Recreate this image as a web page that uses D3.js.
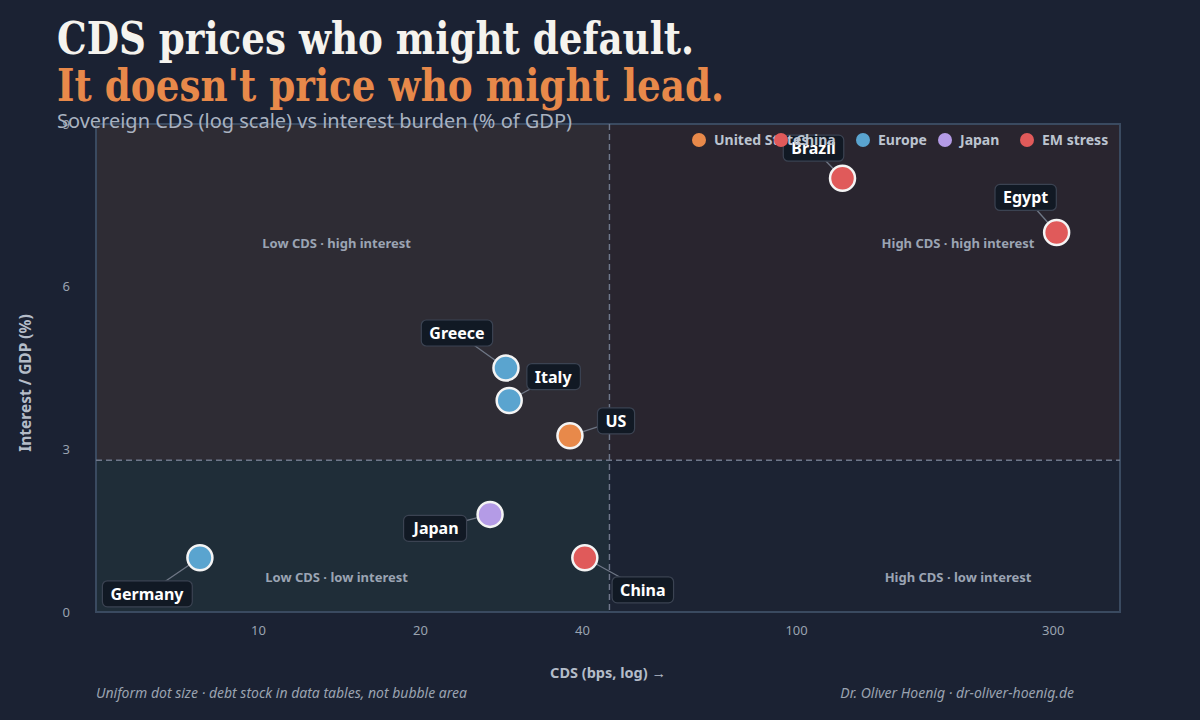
<!DOCTYPE html>
<html>
<head>
<meta charset="utf-8">
<script src="https://cdn.jsdelivr.net/npm/d3@7"></script>
<style>
  html, body { margin: 0; padding: 0; background: #1b2233; }
  svg { display: block; }
</style>
</head>
<body>
<div id="chart"></div>
<script>
// data
var countries = ["Germany", "Japan", "China", "US", "Italy", "Greece", "Brazil", "Egypt"];
var cdsBps = [7.8, 27, 40.5, 38, 29.3, 28.9, 122, 305];
var interestGdp = [1.0, 1.8, 1.0, 3.25, 3.9, 4.5, 8.0, 7.0];
var groups = ["Europe", "Japan", "China", "United States", "Europe", "Europe", "EM stress", "EM stress"];

var legendNames = ["United States", "China", "Europe", "Japan", "EM stress"];
var legendColors = ["#e8894a", "#e05a5a", "#5aa4cf", "#b49be6", "#e05a5a"];

var xTicks = [10, 20, 40, 100, 300];
var yTicks = [0, 3, 6, 9];
var cdsSplit = 45;
var interestSplit = 2.8;

var quadrantNames = ["Low CDS · high interest", "High CDS · high interest", "Low CDS · low interest", "High CDS · low interest"];
var quadrantCds = [14, 200, 14, 200];
var quadrantInterest = [6.8, 6.8, 0.65, 0.65];

// label offsets (px) from each dot
var labelOffsets = {
    Germany: [-53, 36], Japan: [-54, 14], China: [58, 32], US: [46, -15],
    Italy: [44, -24], Greece: [-49, -35], Brazil: [-29, -30], Egypt: [-31, -35]
};

(() => {
    var width = 1200;
    var height = 720;
    var margin = { left: 96, right: 80, top: 124, bottom: 108 };

    var svg = d3.select("#chart")
        .append("svg")
        .attr("width", width)
        .attr("height", height)
        .style("font-family", "'Noto Sans', 'Open Sans', sans-serif");

    svg.append("rect")
        .attr("width", width)
        .attr("height", height)
        .attr("fill", "#1b2233");

    var x = d3.scaleLog()
        .domain([5, 400])
        .range([margin.left, width - margin.right]);

    var y = d3.scaleLinear()
        .domain([0, 9])
        .range([height - margin.bottom, margin.top]);

    var colorOf = d3.scaleOrdinal()
        .domain(legendNames)
        .range(legendColors);

    var data = countries.map(function (c, i) {
        return { name: c, cds: cdsBps[i], interest: interestGdp[i], group: groups[i] };
    });

    // quadrant backgrounds
    var quads = [
        { x0: 5, x1: cdsSplit, y0: interestSplit, y1: 9, fill: "#2e2c34" },
        { x0: cdsSplit, x1: 400, y0: interestSplit, y1: 9, fill: "#29252f" },
        { x0: 5, x1: cdsSplit, y0: 0, y1: interestSplit, fill: "#1f2d38" },
        { x0: cdsSplit, x1: 400, y0: 0, y1: interestSplit, fill: "#1c2333" }
    ];
    svg.selectAll(".quad")
        .data(quads)
        .join("rect")
        .attr("class", "quad")
        .attr("x", function (d) { return x(d.x0); })
        .attr("y", function (d) { return y(d.y1); })
        .attr("width", function (d) { return x(d.x1) - x(d.x0); })
        .attr("height", function (d) { return y(d.y0) - y(d.y1); })
        .attr("fill", function (d) { return d.fill; });

    // plot frame
    svg.append("rect")
        .attr("x", x(5))
        .attr("y", y(9))
        .attr("width", x(400) - x(5))
        .attr("height", y(0) - y(9))
        .attr("fill", "none")
        .attr("stroke", "#3a4a60")
        .attr("stroke-width", 2);

    // split lines
    svg.append("line")
        .attr("x1", x(cdsSplit)).attr("x2", x(cdsSplit))
        .attr("y1", y(9)).attr("y2", y(0))
        .attr("stroke", "#6f788b")
        .attr("stroke-width", 1.4)
        .attr("stroke-dasharray", "6,4");
    svg.append("line")
        .attr("x1", x(5)).attr("x2", x(400))
        .attr("y1", y(interestSplit)).attr("y2", y(interestSplit))
        .attr("stroke", "#6f788b")
        .attr("stroke-width", 1.4)
        .attr("stroke-dasharray", "6,4");

    // quadrant labels
    svg.selectAll(".quad-label")
        .data(quadrantNames)
        .join("text")
        .attr("class", "quad-label")
        .attr("x", function (d, i) { return x(quadrantCds[i]); })
        .attr("y", function (d, i) { return y(quadrantInterest[i]) + 5; })
        .attr("text-anchor", "middle")
        .attr("font-size", "13px")
        .attr("font-weight", "bold")
        .attr("fill", "#9ba4b3")
        .text(function (d) { return d; });

    // axes
    var xAxis = svg.append("g")
        .attr("transform", "translate(0," + (height - margin.bottom) + ")")
        .call(d3.axisBottom(x).tickValues(xTicks).tickFormat(d3.format("d")).tickSize(0).tickPadding(14));
    var yAxis = svg.append("g")
        .attr("transform", "translate(" + margin.left + ",0)")
        .call(d3.axisLeft(y).tickValues(yTicks).tickSize(0).tickPadding(26));
    [xAxis, yAxis].forEach(function (a) {
        a.select(".domain").remove();
        a.selectAll("text")
            .attr("fill", "#9aa3b0")
            .attr("font-size", "13px")
            .attr("font-family", "'Noto Sans', sans-serif");
    });

    svg.append("text")
        .attr("x", (x(5) + x(400)) / 2)
        .attr("y", 678)
        .attr("text-anchor", "middle")
        .attr("font-size", "14.5px")
        .attr("font-weight", "bold")
        .attr("fill", "#b4bcc8")
        .text("CDS (bps, log) →");

    svg.append("text")
        .attr("transform", "translate(31,383) rotate(-90)")
        .attr("text-anchor", "middle")
        .attr("font-size", "15.5px")
        .attr("font-weight", "bold")
        .attr("fill", "#b4bcc8")
        .text("Interest / GDP (%)");

    // leader lines
    svg.selectAll(".leader")
        .data(data)
        .join("line")
        .attr("class", "leader")
        .attr("x1", function (d) { return x(d.cds); })
        .attr("y1", function (d) { return y(d.interest); })
        .attr("x2", function (d) { return x(d.cds) + labelOffsets[d.name][0]; })
        .attr("y2", function (d) { return y(d.interest) + labelOffsets[d.name][1]; })
        .attr("stroke", "#6f7786")
        .attr("stroke-width", 1.3);

    // dots
    svg.selectAll(".dot")
        .data(data)
        .join("circle")
        .attr("class", "dot")
        .attr("cx", function (d) { return x(d.cds); })
        .attr("cy", function (d) { return y(d.interest); })
        .attr("r", 12.5)
        .attr("fill", function (d) { return colorOf(d.group); })
        .attr("stroke", "#f4f4f4")
        .attr("stroke-width", 2.5);

    // labels with boxes
    var labels = svg.selectAll(".label")
        .data(data)
        .join("g")
        .attr("class", "label")
        .attr("transform", function (d) {
            return "translate(" + (x(d.cds) + labelOffsets[d.name][0]) + "," + (y(d.interest) + labelOffsets[d.name][1]) + ")";
        });
    labels.append("text")
        .attr("text-anchor", "middle")
        .attr("y", 6)
        .attr("font-size", "16px")
        .attr("font-weight", "bold")
        .attr("fill", "#ffffff")
        .text(function (d) { return d.name; });
    labels.each(function () {
        var g = d3.select(this);
        var bb = g.select("text").node().getBBox();
        g.insert("rect", "text")
            .attr("x", bb.x - 8)
            .attr("y", -13)
            .attr("width", bb.width + 16)
            .attr("height", 26)
            .attr("rx", 5)
            .attr("fill", "#111924")
            .attr("stroke", "#3b4352")
            .attr("stroke-width", 1.2);
    });

    // legend (fixed step, as in the reference)
    var legend = svg.selectAll(".legend")
        .data(legendNames)
        .join("g")
        .attr("class", "legend")
        .attr("transform", function (d, i) { return "translate(" + (699 + i * 82) + ",140)"; });
    legend.append("circle")
        .attr("r", 7)
        .attr("fill", function (d) { return colorOf(d); });
    legend.append("text")
        .attr("x", 15)
        .attr("y", 5)
        .attr("font-size", "14px")
        .attr("font-weight", "bold")
        .attr("fill", "#bcc4d0")
        .text(function (d) { return d; });

    // titles
    svg.append("text")
        .attr("x", 57)
        .attr("y", 54)
        .attr("font-family", "'DejaVu Serif', 'Liberation Serif', serif")
        .attr("font-weight", "bold")
        .attr("font-size", "44px")
        .attr("fill", "#f5f3ee")
        .attr("textLength", 637)
        .attr("lengthAdjust", "spacingAndGlyphs")
        .text("CDS prices who might default.");
    svg.append("text")
        .attr("x", 57)
        .attr("y", 101)
        .attr("font-family", "'DejaVu Serif', 'Liberation Serif', serif")
        .attr("font-weight", "bold")
        .attr("font-size", "44px")
        .attr("fill", "#e8894a")
        .attr("textLength", 667)
        .attr("lengthAdjust", "spacingAndGlyphs")
        .text("It doesn't price who might lead.");
    svg.append("text")
        .attr("x", 57)
        .attr("y", 128)
        .attr("font-size", "19px")
        .attr("fill", "#a9b2c0")
        .attr("textLength", 515)
        .attr("lengthAdjust", "spacingAndGlyphs")
        .text("Sovereign CDS (log scale) vs interest burden (% of GDP)");

    // footer
    svg.append("text")
        .attr("x", 96)
        .attr("y", 698)
        .attr("font-size", "14px")
        .attr("font-style", "italic")
        .attr("fill", "#9aa3b0")
        .attr("textLength", 371)
        .attr("lengthAdjust", "spacingAndGlyphs")
        .text("Uniform dot size · debt stock in data tables, not bubble area");
    svg.append("text")
        .attr("x", 1074)
        .attr("y", 698)
        .attr("text-anchor", "end")
        .attr("font-size", "14px")
        .attr("font-style", "italic")
        .attr("fill", "#9aa3b0")
        .text("Dr. Oliver Hoenig · dr-oliver-hoenig.de");
})();
</script>
</body>
</html>
